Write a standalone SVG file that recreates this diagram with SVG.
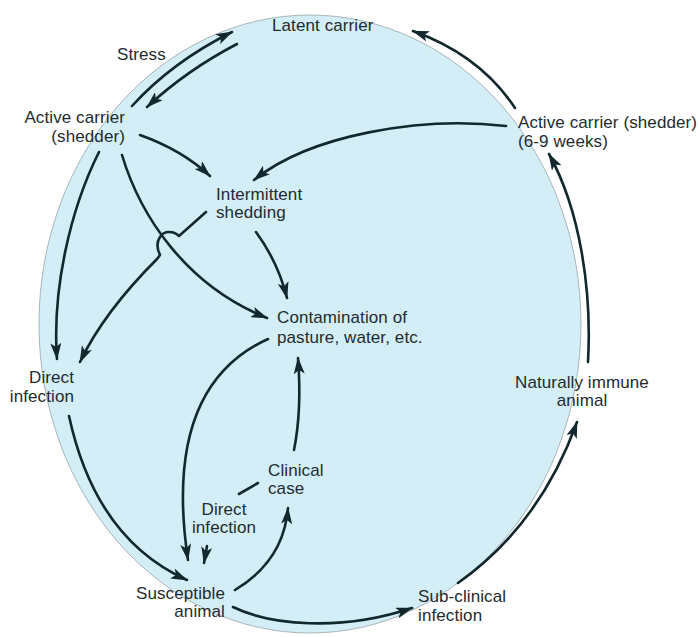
<svg xmlns="http://www.w3.org/2000/svg" width="698" height="637" viewBox="0 0 698 637">
<style>
.lbl{font-family:"Liberation Sans",Arial,sans-serif;font-size:17px;letter-spacing:0.1px;fill:#1f2b30}
.e{text-anchor:end}
.m{text-anchor:middle}
.c{fill:none;stroke:#12282c;stroke-width:2.6;stroke-linecap:round;stroke-linejoin:round}
.a{marker-end:url(#ah)}
</style>
<defs>
<marker id="ah" markerUnits="userSpaceOnUse" markerWidth="17" markerHeight="11" viewBox="0 0 17 11" refX="16" refY="5.5" orient="auto">
<path d="M0,0 L17,5.5 L0,11 L4,5.5 z" fill="#12282c"/>
</marker>
</defs>
<rect width="698" height="637" fill="#ffffff"/>
<ellipse id="background-circle" cx="310" cy="324" rx="271" ry="309" fill="#d3eef7" stroke="#a9b4b8" stroke-width="1"/>

<g id="connectors">
<path class="c a" d="M132,106 Q172,62 232,32"/>
<path class="c a" d="M237,44 Q187,70 147,107"/>
<path class="c a" d="M140,135 Q182,150 210,176"/>
<path class="c a" d="M506,126 C420,116 310,135 254,180"/>
<path class="c a" d="M99,152 C70,210 52,290 57,359"/>
<path class="c a" d="M122,155 C140,215 185,285 267,318"/>
<path class="c a" d="M206,212 L179,236 C174,231 164,230 160,237 C156,243 157,249 160,255 L157,259 C132,284 100,320 80,362"/>
<path class="c a" d="M256,232 Q278,262 287,298"/>
<path class="c a" d="M268,339 C200,370 170,440 188,560"/>
<path class="c a" d="M69,416 C85,490 120,550 187,580"/>
<path class="c" d="M239,494 L258,483"/>
<path class="c a" d="M207,546 L204,563"/>
<path class="c a" d="M235,590 C265,572 285,545 288,508"/>
<path class="c a" d="M294,450 Q302,410 298,358"/>
<path class="c a" d="M233,607 C270,625 340,632 412,608"/>
<path class="c a" d="M458,583 Q540,525 577,422"/>
<path class="c a" d="M588,362 C592,290 580,210 549,154"/>
<path class="c a" d="M515,108 Q480,55 413,31"/>
</g>

<g id="node-latent-carrier"><text class="lbl" x="272" y="31">Latent carrier</text></g>
<g id="node-stress"><text class="lbl" x="117" y="60">Stress</text></g>
<g id="node-active-carrier-left"><text class="lbl e" x="125" y="123">Active carrier</text><text class="lbl e" x="125" y="142">(shedder)</text></g>
<g id="node-active-carrier-right"><text class="lbl" x="518" y="128">Active carrier (shedder)</text><text class="lbl" x="518" y="147">(6-9 weeks)</text></g>
<g id="node-intermittent-shedding"><text class="lbl" x="216" y="200">Intermittent</text><text class="lbl" x="216" y="218">shedding</text></g>
<g id="node-contamination"><text class="lbl" x="277" y="323">Contamination of</text><text class="lbl" x="277" y="343">pasture, water, etc.</text></g>
<g id="node-direct-infection-left"><text class="lbl e" x="74" y="383">Direct</text><text class="lbl e" x="74" y="402">infection</text></g>
<g id="node-naturally-immune"><text class="lbl m" x="582" y="388">Naturally immune</text><text class="lbl m" x="582" y="406">animal</text></g>
<g id="node-clinical-case"><text class="lbl" x="268" y="476">Clinical</text><text class="lbl" x="268" y="494">case</text></g>
<g id="node-direct-infection-mid"><text class="lbl m" x="224" y="515">Direct</text><text class="lbl m" x="224" y="533">infection</text></g>
<g id="node-susceptible"><text class="lbl e" x="225" y="599">Susceptible</text><text class="lbl e" x="225" y="617">animal</text></g>
<g id="node-subclinical"><text class="lbl" x="418" y="602">Sub-clinical</text><text class="lbl" x="418" y="621">infection</text></g>
</svg>
